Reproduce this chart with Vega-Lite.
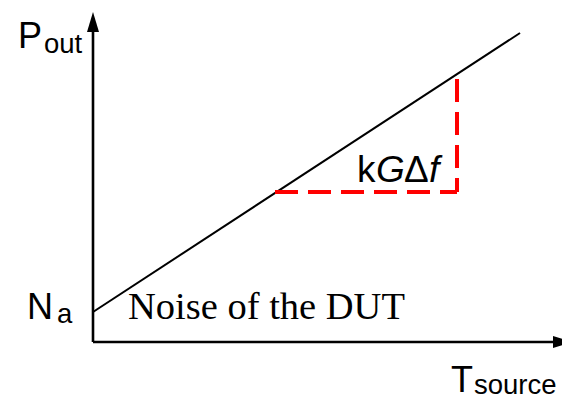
{
  "$schema": "https://vega.github.io/schema/vega-lite/v6.json",
  "width": 562,
  "height": 396,
  "padding": 0,
  "autosize": {"type": "none"},
  "config": {"view": {"stroke": null}},
  "background": "white",
  "datasets": {
    "curve": [{"T": 0, "P": 30}, {"T": 427, "P": 309}],
    "axes": [
      {"name": "P", "T": 0, "P": 0, "T2": 0, "P2": 314},
      {"name": "T", "T": 0, "P": 0, "T2": 460, "P2": 0}
    ],
    "arrows": [
      {"dir": "up", "T": 0, "P": 330},
      {"dir": "right", "T": 480, "P": 0}
    ],
    "slope": [
      {"seg": "h", "i": 0, "T": 182, "P": 150},
      {"seg": "h", "i": 1, "T": 364, "P": 150},
      {"seg": "v", "i": 0, "T": 364, "P": 263},
      {"seg": "v", "i": 1, "T": 364, "P": 150}
    ],
    "main": [
      {"t": "P", "T": -75, "P": 294},
      {"t": "N", "T": -66, "P": 23},
      {"t": "T", "T": 358, "P": -50}
    ],
    "formula": [
      {"t": "k", "T": 264, "P": 160},
      {"t": "Δ", "T": 311, "P": 160}
    ],
    "sub": [
      {"t": "out", "T": -49, "P": 289},
      {"t": "a", "T": -36, "P": 19},
      {"t": "source", "T": 381, "P": -52}
    ],
    "ital": [
      {"t": "G", "T": 283, "P": 160},
      {"t": "f", "T": 336, "P": 160}
    ],
    "serif": [
      {"t": "Noise of the DUT", "T": 35, "P": 23}
    ]
  },
  "encoding": {
    "x": {"field": "T", "type": "quantitative", "scale": {"domain": [-93, 469], "nice": false, "zero": false}, "axis": null},
    "y": {"field": "P", "type": "quantitative", "scale": {"domain": [-54, 342], "nice": false, "zero": false}, "axis": null}
  },
  "layer": [
    {
      "data": {"name": "axes"},
      "mark": {"type": "rule", "color": "black", "strokeWidth": 2.6, "strokeCap": "butt"},
      "encoding": {
        "x2": {"field": "T2"},
        "y2": {"field": "P2"}
      }
    },
    {
      "data": {"name": "arrows"},
      "mark": {"type": "point", "filled": true, "color": "black", "opacity": 1, "size": 400, "strokeWidth": 0},
      "encoding": {
        "shape": {"field": "dir", "type": "nominal", "legend": null,
          "scale": {"domain": ["up", "right"], "range": ["M0,0L0.6,2L-0.6,2Z", "M0,0L-2,-0.6L-2,0.6Z"]}}
      }
    },
    {
      "data": {"name": "curve"},
      "mark": {"type": "line", "color": "black", "strokeWidth": 2}
    },
    {
      "data": {"name": "slope"},
      "mark": {"type": "line", "color": "#ff0000", "strokeWidth": 4, "strokeDash": [23, 10], "strokeCap": "butt"},
      "encoding": {
        "detail": {"field": "seg", "type": "nominal"},
        "order": {"field": "i", "type": "quantitative"}
      }
    },
    {
      "data": {"name": "main"},
      "mark": {"type": "text", "font": "Liberation Sans", "fontSize": 36, "align": "left", "baseline": "alphabetic", "color": "black"},
      "encoding": {"text": {"field": "t"}}
    },
    {
      "data": {"name": "formula"},
      "mark": {"type": "text", "font": "Liberation Sans", "fontSize": 37, "align": "left", "baseline": "alphabetic", "color": "black"},
      "encoding": {"text": {"field": "t"}}
    },
    {
      "data": {"name": "sub"},
      "mark": {"type": "text", "font": "Liberation Sans", "fontSize": 27.5, "align": "left", "baseline": "alphabetic", "color": "black"},
      "encoding": {"text": {"field": "t"}}
    },
    {
      "data": {"name": "ital"},
      "mark": {"type": "text", "font": "Liberation Sans", "fontStyle": "italic", "fontSize": 37, "align": "left", "baseline": "alphabetic", "color": "black"},
      "encoding": {"text": {"field": "t"}}
    },
    {
      "data": {"name": "serif"},
      "mark": {"type": "text", "font": "Liberation Serif", "fontSize": 38.5, "align": "left", "baseline": "alphabetic", "color": "black"},
      "encoding": {"text": {"field": "t"}}
    }
  ]
}
